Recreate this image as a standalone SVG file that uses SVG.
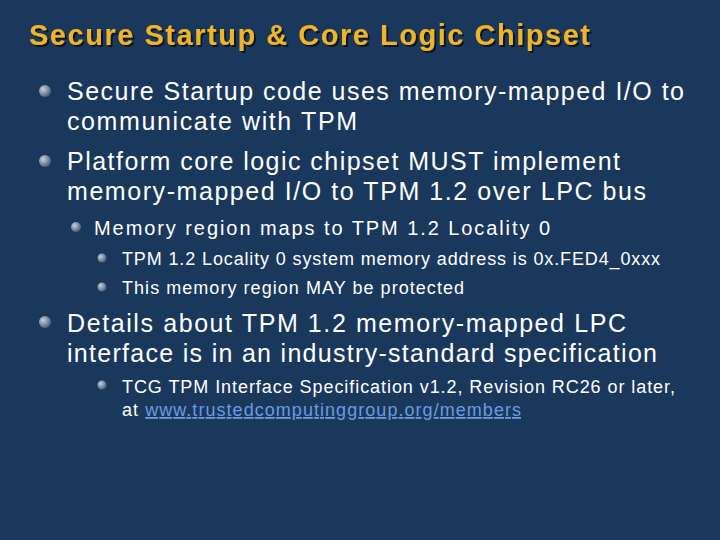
<svg xmlns="http://www.w3.org/2000/svg" width="720" height="540" viewBox="0 0 720 540">
<defs>
<radialGradient id="b" cx="0.35" cy="0.35" r="0.7"><stop offset="0" stop-color="#c8d0dc"/><stop offset="0.6" stop-color="#7a8aa0"/><stop offset="1" stop-color="#4a5a72"/></radialGradient>
<filter id="sh" x="-5%" y="-30%" width="110%" height="160%"><feDropShadow dx="2" dy="2" stdDeviation="0.5" flood-color="#000" flood-opacity="0.6"/></filter>
<style>
text{font-family:"Liberation Sans",Arial,sans-serif;fill:#fff}
.t{font-size:29px;font-weight:bold;fill:#F0B428}
.l1{font-size:25px}.l2{font-size:20px}.l3{font-size:18px}
.a{fill:#6A9BE0;text-decoration:underline}
</style>
</defs>
<rect width="720" height="540" fill="#1A385C"/>
<text class="t" x="29" y="45" textLength="561" filter="url(#sh)">Secure Startup &amp; Core Logic Chipset</text>
<g id="bullets" fill="url(#b)">
<circle cx="45" cy="91" r="6"/><circle cx="45" cy="161" r="6"/>
<circle cx="76" cy="227" r="5"/>
<circle cx="102" cy="258" r="4.5"/><circle cx="102" cy="287" r="4.5"/>
<circle cx="45" cy="322" r="6"/>
<circle cx="102" cy="385" r="4.5"/>
</g>
<text class="l1" x="67" y="100" textLength="617">Secure Startup code uses memory-mapped I/O to</text>
<text class="l1" x="67" y="130" textLength="290">communicate with TPM</text>
<text class="l1" x="67" y="170" textLength="553">Platform core logic chipset MUST implement</text>
<text class="l1" x="67" y="200" textLength="579">memory-mapped I/O to TPM 1.2 over LPC bus</text>
<text class="l2" x="94" y="235" textLength="456">Memory region maps to TPM 1.2 Locality 0</text>
<text class="l3" x="122" y="265" textLength="538">TPM 1.2 Locality 0 system memory address is 0x.FED4_0xxx</text>
<text class="l3" x="122" y="294" textLength="342">This memory region MAY be protected</text>
<text class="l1" x="67" y="332" textLength="559">Details about TPM 1.2 memory-mapped LPC</text>
<text class="l1" x="67" y="362" textLength="590">interface is in an industry-standard specification</text>
<text class="l3" x="122" y="393" textLength="553">TCG TPM Interface Specification v1.2, Revision RC26 or later,</text>
<text class="l3" x="122" y="416" textLength="399">at <tspan class="a">www.trustedcomputinggroup.org/members</tspan></text>
</svg>
